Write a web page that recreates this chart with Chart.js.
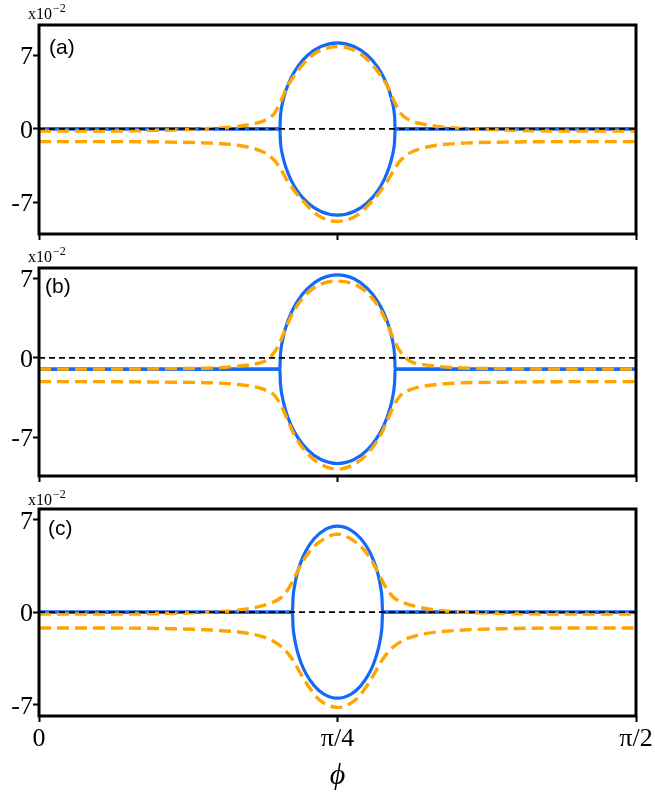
<!DOCTYPE html>
<html>
<head>
<meta charset="utf-8">
<script src="https://cdn.jsdelivr.net/npm/chart.js@4.4.1/dist/chart.umd.min.js"></script>
<style>
  html, body { margin: 0; padding: 0; background: #fff; }
  #wrap { position: relative; width: 655px; height: 796px; overflow: hidden; }
  canvas { position: absolute; left: 0; }
</style>
</head>
<body>
<div id="wrap">
  <canvas id="panelA" width="655" height="250" style="top:0px"></canvas>
  <canvas id="panelB" width="655" height="260" style="top:240px"></canvas>
  <canvas id="panelC" width="655" height="306" style="top:490px"></canvas>
</div>
<script>
// phi is kept in degrees (0..90) and labelled as 0, pi/4, pi/2
const xTicks = [0, 45, 90];
const xTickLabels = ['0', 'π/4', 'π/2'];
const yTicks = [-7, 0, 7];
const yTickLabels = ['-7', '0', '7'];

const zeroPhi = [0, 90];
const zeroLine = [0, 0];

// panel (a)
const phiBlueA = [0, 36.3, 36.4, 36.7, 37.2, 38, 39, 40.5, 42.5, 45, 47.5, 49.5, 51, 52, 52.8, 53.3, 53.6, 53.7, 90];
const blueUpperA = [0, 0, 1.24, 2.46, 3.63, 4.87, 5.94, 7.02, 7.85, 8.2, 7.85, 7.02, 5.94, 4.87, 3.63, 2.46, 1.24, 0, 0];
const blueLowerA = [0, 0, -1.24, -2.46, -3.63, -4.87, -5.94, -7.02, -7.85, -8.2, -7.85, -7.02, -5.94, -4.87, -3.63, -2.46, -1.24, 0, 0];
const phiOrangeA = [0, 10, 20, 26, 30, 32, 34, 35.5, 36.5, 37.5, 38.5, 40, 42, 45, 48, 50, 51.5, 52.5, 53.5, 54.5, 56, 58, 60, 64, 70, 80, 90];
const orangeUpperA = [-0.2, -0.2, -0.1, 0.05, 0.25, 0.45, 0.8, 1.5, 2.7, 4.1, 5.1, 6.3, 7.35, 7.85, 7.35, 6.3, 5.1, 4.1, 2.7, 1.5, 0.8, 0.45, 0.25, 0.05, -0.1, -0.2, -0.2];
const orangeLowerA = [-1.2, -1.2, -1.25, -1.35, -1.55, -1.8, -2.25, -3.0, -3.9, -5.0, -5.9, -7.0, -8.2, -8.8, -8.2, -7.0, -5.9, -5.0, -3.9, -3.0, -2.25, -1.8, -1.55, -1.35, -1.25, -1.2, -1.2];

// panel (b)
const phiBlueB = [0, 36.3, 36.4, 36.7, 37.2, 38, 39, 40.5, 42.5, 45, 47.5, 49.5, 51, 52, 52.8, 53.3, 53.6, 53.7, 90];
const blueUpperB = [-1, -1, 0.26, 1.49, 2.68, 3.93, 5.01, 6.10, 6.95, 7.3, 6.95, 6.10, 5.01, 3.93, 2.68, 1.49, 0.26, -1, -1];
const blueLowerB = [-1, -1, -2.26, -3.49, -4.68, -5.93, -7.01, -8.10, -8.95, -9.3, -8.95, -8.10, -7.01, -5.93, -4.68, -3.49, -2.26, -1, -1];
const phiOrangeB = [0, 10, 20, 26, 30, 32, 34, 35.5, 36.5, 37.5, 38.5, 40, 42, 45, 48, 50, 51.5, 52.5, 53.5, 54.5, 56, 58, 60, 64, 70, 80, 90];
const orangeUpperB = [-1.0, -1.0, -0.95, -0.9, -0.75, -0.6, -0.3, 0.5, 1.6, 3.0, 4.2, 5.4, 6.35, 6.75, 6.35, 5.4, 4.2, 3.0, 1.6, 0.5, -0.3, -0.6, -0.75, -0.9, -0.95, -1.0, -1.0];
const orangeLowerB = [-2.1, -2.1, -2.15, -2.2, -2.35, -2.5, -2.8, -3.3, -4.2, -5.5, -6.8, -8.1, -9.2, -9.8, -9.2, -8.1, -6.8, -5.5, -4.2, -3.3, -2.8, -2.5, -2.35, -2.2, -2.15, -2.1, -2.1];

// panel (c)
const phiBlueC = [0, 38.2, 38.3, 38.5, 38.9, 39.5, 40.3, 41.5, 43, 45, 47, 48.5, 49.7, 50.5, 51.1, 51.5, 51.7, 51.8, 90];
const blueUpperC = [0, 0, 1.11, 1.91, 2.87, 3.82, 4.70, 5.57, 6.21, 6.5, 6.21, 5.57, 4.70, 3.82, 2.87, 1.91, 1.11, 0, 0];
const blueLowerC = [0, 0, -1.11, -1.91, -2.87, -3.82, -4.70, -5.57, -6.21, -6.5, -6.21, -5.57, -4.70, -3.82, -2.87, -1.91, -1.11, 0, 0];
const phiOrangeC = [0, 10, 20, 26, 30, 33, 35, 36.5, 37.5, 38.5, 39.5, 40.5, 42, 45, 48, 49.5, 50.5, 51.5, 52.5, 53.5, 55, 57, 60, 64, 70, 80, 90];
const orangeUpperC = [-0.15, -0.15, -0.1, 0.0, 0.15, 0.4, 0.7, 1.1, 1.7, 2.6, 3.6, 4.4, 5.2, 5.9, 5.2, 4.4, 3.6, 2.6, 1.7, 1.1, 0.7, 0.4, 0.15, 0.0, -0.1, -0.15, -0.15];
const orangeLowerC = [-1.2, -1.2, -1.25, -1.35, -1.5, -1.75, -2.1, -2.6, -3.1, -3.8, -4.7, -5.5, -6.5, -7.2, -6.5, -5.5, -4.7, -3.8, -3.1, -2.6, -2.1, -1.75, -1.5, -1.35, -1.25, -1.2, -1.2];

const BLUE = '#1469f7';
const ORANGE = '#ffa500';
const SERIF = '"Liberation Serif", "DejaVu Serif", serif';

function series(xs, ys) {
  return xs.map((x, i) => ({ x, y: ys[i] }));
}

function lineSet(xs, ys, color, width, dash, order) {
  return {
    data: series(xs, ys),
    borderColor: color,
    borderWidth: width,
    borderDash: dash,
    borderCapStyle: 'butt',
    pointRadius: 0,
    cubicInterpolationMode: 'monotone',
    fill: false,
    order,
  };
}

// frame, tick labels and panel notes
const panelDecor = {
  id: 'panelDecor',
  afterDraw(chart, args, opts) {
    const { ctx, chartArea: a } = chart;
    const xs = chart.scales.x;
    const ys = chart.scales.y;
    ctx.save();
    ctx.strokeStyle = '#000';
    ctx.lineWidth = 3;
    ctx.strokeRect(a.left, a.top, a.right - a.left, a.bottom - a.top);

    ctx.fillStyle = '#000';
    ctx.textBaseline = 'alphabetic';

    ctx.font = `26px ${SERIF}`;
    ctx.textAlign = 'right';
    yTicks.forEach((v, i) => {
      ctx.fillText(yTickLabels[i], a.left - 6, ys.getPixelForValue(v) + 9);
    });

    ctx.textAlign = 'left';
    ctx.font = `16px ${SERIF}`;
    const by = a.top + opts.expDy;
    ctx.fillText('x10', 28, by);
    const w = ctx.measureText('x10').width;
    ctx.font = `12px ${SERIF}`;
    ctx.fillText('−2', 28 + w + 1, by - 7);

    ctx.font = '21px "Liberation Sans", Arial, sans-serif';
    ctx.fillText(opts.tag, opts.tagX, a.top + opts.tagDy);

    if (opts.showX) {
      ctx.textAlign = 'center';
      ctx.font = `26px ${SERIF}`;
      xTicks.forEach((v, i) => {
        ctx.fillText(xTickLabels[i], xs.getPixelForValue(v), a.bottom + 29.5);
      });
      ctx.font = `italic 30px ${SERIF}`;
      ctx.fillText('ϕ', xs.getPixelForValue(45), a.bottom + 68);
    }
    ctx.restore();
  },
};

function makePanel(id, p) {
  return new Chart(document.getElementById(id), {
    type: 'line',
    data: {
      datasets: [
        lineSet(zeroPhi, zeroLine, '#000', 1.8, [6, 4], 0),
        lineSet(p.phiOrange, p.orangeUpper, ORANGE, 3.4, [12, 6], 1),
        lineSet(p.phiOrange, p.orangeLower, ORANGE, 3.4, [12, 6], 1),
        lineSet(p.phiBlue, p.blueUpper, BLUE, 3.2, [], 2),
        lineSet(p.phiBlue, p.blueLower, BLUE, 3.2, [], 2),
      ],
    },
    options: {
      responsive: false,
      animation: false,
      events: [],
      layout: { padding: { top: p.padTop, right: 19, left: 0, bottom: 0 } },
      plugins: {
        legend: { display: false },
        tooltip: { enabled: false },
        panelDecor: { tag: p.tag, tagX: p.tagX, tagDy: p.tagDy, expDy: p.expDy, showX: p.showX },
      },
      scales: {
        x: {
          type: 'linear',
          min: 0,
          max: 90,
          afterBuildTicks(s) { s.ticks = xTicks.map((v) => ({ value: v })); },
          afterFit(s) { s.height = p.xAxisH; },
          ticks: { display: false },
          grid: { drawOnChartArea: false, drawTicks: true, tickLength: 6, tickWidth: 2, tickColor: '#000' },
          border: { display: false },
        },
        y: {
          type: 'linear',
          min: p.yMin,
          max: p.yMax,
          afterBuildTicks(s) { s.ticks = yTicks.map((v) => ({ value: v })); },
          afterFit(s) { s.width = 39; },
          ticks: { display: false },
          grid: { drawOnChartArea: false, drawTicks: true, tickLength: 6, tickWidth: 2, tickColor: '#000' },
          border: { display: false },
        },
      },
    },
    plugins: [panelDecor],
  });
}

makePanel('panelA', {
  phiBlue: phiBlueA, blueUpper: blueUpperA, blueLower: blueLowerA,
  phiOrange: phiOrangeA, orangeUpper: orangeUpperA, orangeLower: orangeLowerA,
  yMin: -10, yMax: 9.9, padTop: 25, xAxisH: 16,
  tag: '(a)', tagX: 49, tagDy: 28.5, expDy: -6.5, showX: false,
});

makePanel('panelB', {
  phiBlue: phiBlueB, blueUpper: blueUpperB, blueLower: blueLowerB,
  phiOrange: phiOrangeB, orangeUpper: orangeUpperB, orangeLower: orangeLowerB,
  yMin: -10.4, yMax: 7.9, padTop: 28, xAxisH: 24,
  tag: '(b)', tagX: 45, tagDy: 24.5, expDy: -6, showX: false,
});

makePanel('panelC', {
  phiBlue: phiBlueC, blueUpper: blueUpperC, blueLower: blueLowerC,
  phiOrange: phiOrangeC, orangeUpper: orangeUpperC, orangeLower: orangeLowerC,
  yMin: -7.85, yMax: 7.8, padTop: 19, xAxisH: 80,
  tag: '(c)', tagX: 48, tagDy: 25.5, expDy: -4, showX: true,
});
</script>
</body>
</html>
